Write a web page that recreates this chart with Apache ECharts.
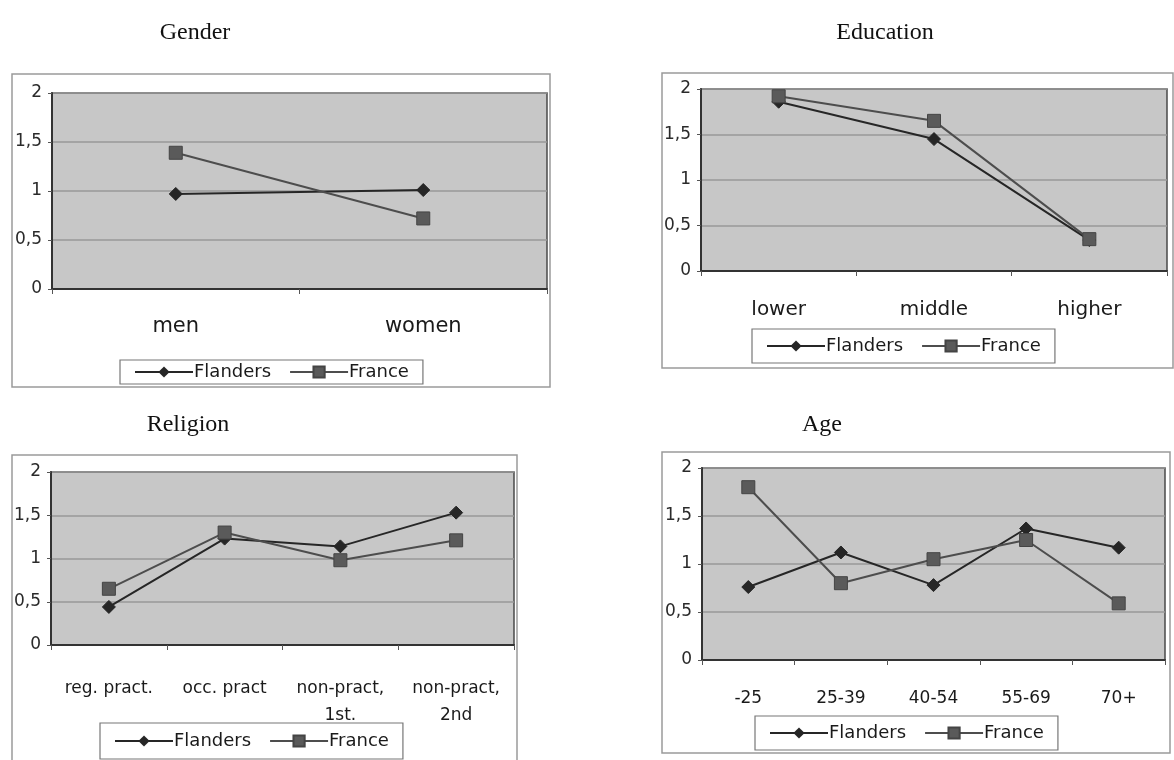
<!DOCTYPE html>
<html>
<head>
<meta charset="utf-8">
<script src="https://cdn.jsdelivr.net/npm/echarts@6/dist/echarts.min.js"></script>
<style>
html,body{margin:0;padding:0;background:#fff;}
#c{width:1174px;height:760px;}
</style>
</head>
<body>
<div id="c"></div>
<script>
// ---- data ----
const seriesNames = ['Flanders', 'France'];
const yTicks = [0, 0.5, 1, 1.5, 2];

const genderCats = ['men', 'women'];
const genderFlanders = [0.97, 1.01];
const genderFrance = [1.39, 0.72];

const eduCats = ['lower', 'middle', 'higher'];
const eduFlanders = [1.86, 1.45, 0.34];
const eduFrance = [1.92, 1.65, 0.35];

const relCats = ['reg. pract.', 'occ. pract', 'non-pract,\n1st.', 'non-pract,\n2nd'];
const relFlanders = [0.44, 1.23, 1.14, 1.53];
const relFrance = [0.65, 1.30, 0.98, 1.21];

const ageCats = ['-25', '25-39', '40-54', '55-69', '70+'];
const ageFlanders = [0.76, 1.12, 0.78, 1.37, 1.17];
const ageFrance = [1.80, 0.80, 1.05, 1.25, 0.59];

const panelTitles = ['Gender', 'Education', 'Religion', 'Age'];

// ---- layout ----
const panels = [
  {title: panelTitles[0], cats: genderCats, fl: genderFlanders, fr: genderFrance,
   grid: {left: 52, top: 93, width: 495, height: 196}, box: [12, 74, 538, 313],
   titlePos: [190, 16], legend: {left: 120, top: 360, pad: 3}, labelMargin: 24, catFont: 21},
  {title: panelTitles[1], cats: eduCats, fl: eduFlanders, fr: eduFrance,
   grid: {left: 701, top: 89, width: 466, height: 182}, box: [662, 73, 511, 295],
   titlePos: [880, 16], legend: {left: 752, top: 329, pad: 8}, labelMargin: 25, catFont: 20},
  {title: panelTitles[2], cats: relCats, fl: relFlanders, fr: relFrance,
   grid: {left: 51, top: 472, width: 463, height: 173}, box: [12, 455, 505, 320],
   titlePos: [183, 408], legend: {left: 100, top: 723, pad: 9}, labelMargin: 30, catFont: 17},
  {title: panelTitles[3], cats: ageCats, fl: ageFlanders, fr: ageFrance,
   grid: {left: 702, top: 468, width: 463, height: 192}, box: [662, 452, 508, 301],
   titlePos: [817, 408], legend: {left: 755, top: 716, pad: 8}, labelMargin: 25, catFont: 17}
];

const axisFont = 'DejaVu Sans';
const option = {
  animation: false,
  backgroundColor: '#ffffff',
  title: [], grid: [], xAxis: [], yAxis: [], series: [], legend: [],
  graphic: []
};

panels.forEach((p, i) => {
  option.graphic.push({
    type: 'rect', silent: true, z: -1,
    shape: {x: p.box[0], y: p.box[1], width: p.box[2], height: p.box[3]},
    style: {fill: '#ffffff', stroke: '#9a9a9a', lineWidth: 1.5}
  });
  option.title.push({
    text: p.title, left: p.titlePos[0], top: p.titlePos[1], textAlign: 'center',
    textStyle: {fontFamily: 'Liberation Serif', fontSize: 24, fontWeight: 'normal', color: '#111'}
  });
  option.grid.push(Object.assign({show: true, backgroundColor: '#c7c7c7',
    borderColor: '#4a4a4a', borderWidth: 1.5}, p.grid));
  option.xAxis.push({
    type: 'category', gridIndex: i, data: p.cats, boundaryGap: true,
    axisLine: {lineStyle: {color: '#333', width: 2}},
    axisTick: {show: true, length: 5, lineStyle: {color: '#555'}},
    axisLabel: {margin: p.labelMargin, fontFamily: axisFont, fontSize: p.catFont,
      color: '#1a1a1a', interval: 0, lineHeight: 27}
  });
  option.yAxis.push({
    type: 'value', gridIndex: i, min: yTicks[0], max: yTicks[yTicks.length - 1], interval: 0.5,
    axisLine: {show: true, lineStyle: {color: '#333', width: 2}},
    axisTick: {show: true, length: 4, lineStyle: {color: '#555'}},
    splitLine: {show: true, lineStyle: {color: '#999', width: 1.5}},
    axisLabel: {margin: 10, fontFamily: axisFont, fontSize: 17, color: '#2a2a2a',
      formatter: v => String(v).replace('.', ',')}
  });
  option.series.push({
    name: seriesNames[0], type: 'line', xAxisIndex: i, yAxisIndex: i, data: p.fl,
    symbol: 'diamond', symbolSize: 13,
    lineStyle: {color: '#262626', width: 2},
    itemStyle: {color: '#262626', borderColor: '#262626'}
  });
  option.series.push({
    name: seriesNames[1], type: 'line', xAxisIndex: i, yAxisIndex: i, data: p.fr,
    symbol: 'rect', symbolSize: 13,
    lineStyle: {color: '#4d4d4d', width: 2},
    itemStyle: {color: '#5a5a5a', borderColor: '#444', borderWidth: 1}
  });
  option.legend.push({
    data: seriesNames, left: p.legend.left, top: p.legend.top, orient: 'horizontal',
    borderColor: '#777', borderWidth: 1.2, padding: [p.legend.pad, 14, p.legend.pad, 14], itemGap: 18,
    itemWidth: 58, itemHeight: 14, selectedMode: false,
    textStyle: {fontFamily: axisFont, fontSize: 18, color: '#1a1a1a', padding: [0, 0, 0, -4]}
  });
});

const chart = echarts.init(document.getElementById('c'), null, {renderer: 'canvas'});
chart.setOption(option);
</script>
</body>
</html>
